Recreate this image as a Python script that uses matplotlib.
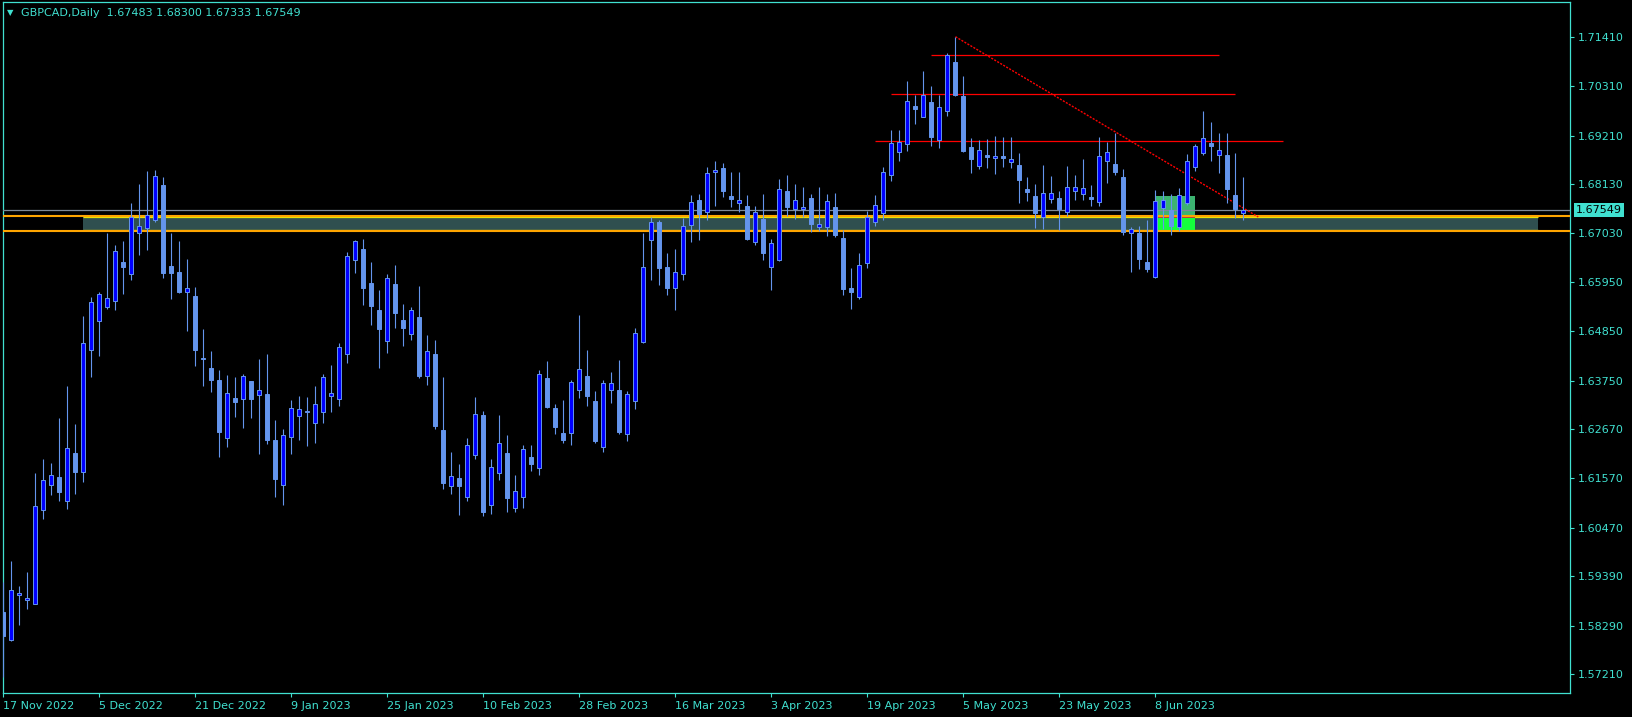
"""GBPCAD daily candles redrawn in the MT4 black chart style."""

from __future__ import annotations

import matplotlib

matplotlib.use("Agg")
import matplotlib.pyplot as plt
from matplotlib.patches import Rectangle

# --- OHLC, one entry per daily bar (bar 0 = 17 Nov 2022) ---
opens = [
    1.5859, 1.5796, 1.5896, 1.5885, 1.5878, 1.6087, 1.6143, 1.6160, 1.6107, 1.6214,
    1.6172, 1.6444, 1.6509, 1.6540, 1.6553, 1.6640, 1.6613, 1.6703, 1.6716, 1.6734,
    1.6811, 1.6631, 1.6617, 1.6573, 1.6564, 1.6425, 1.6403, 1.6376, 1.6246, 1.6336,
    1.6335, 1.6374, 1.6342, 1.6345, 1.6243, 1.6142, 1.6249, 1.6296, 1.6304, 1.6280,
    1.6304, 1.6341, 1.6333, 1.6435, 1.6645, 1.6668, 1.6593, 1.6533, 1.6464, 1.6590,
    1.6510, 1.6480, 1.6517, 1.6386, 1.6434, 1.6265, 1.6139, 1.6158, 1.6116, 1.6210,
    1.6298, 1.6098, 1.6168, 1.6213, 1.6090, 1.6115, 1.6205, 1.6181, 1.6380, 1.6313,
    1.6258, 1.6258, 1.6353, 1.6385, 1.6330, 1.6226, 1.6353, 1.6353, 1.6257, 1.6330,
    1.6462, 1.6688, 1.6728, 1.6628, 1.6582, 1.6613, 1.6723, 1.6777, 1.6752, 1.6839,
    1.6848, 1.6787, 1.6770, 1.6764, 1.6683, 1.6735, 1.6629, 1.6645, 1.6798, 1.6758,
    1.6757, 1.6782, 1.6718, 1.6718, 1.6762, 1.6693, 1.6582, 1.6562, 1.6637, 1.6728,
    1.6749, 1.6833, 1.6884, 1.6902, 1.6987, 1.6963, 1.6996, 1.6912, 1.6975, 1.7085,
    1.7010, 1.6896, 1.6854, 1.6878, 1.6871, 1.6876, 1.6862, 1.6856, 1.6802, 1.6787,
    1.6740, 1.6781, 1.6782, 1.6752, 1.6798, 1.6790, 1.6784, 1.6774, 1.6865, 1.6858,
    1.6829, 1.6703, 1.6704, 1.6640, 1.6606, 1.6759, 1.6755, 1.6718, 1.6770, 1.6852,
    1.6883, 1.6905, 1.6877, 1.6878, 1.6788, 1.67483,
]
highs = [
    1.5925, 1.5973, 1.5917, 1.5948, 1.6169, 1.6200, 1.6191, 1.6292, 1.6363, 1.6278,
    1.6519, 1.6561, 1.6573, 1.6704, 1.6677, 1.6686, 1.6771, 1.6813, 1.6842, 1.6845,
    1.6829, 1.6704, 1.6686, 1.6646, 1.6584, 1.6490, 1.6441, 1.6399, 1.6388, 1.6383,
    1.6390, 1.6374, 1.6423, 1.6434, 1.6287, 1.6267, 1.6332, 1.6341, 1.6339, 1.6363,
    1.6390, 1.6410, 1.6459, 1.6662, 1.6689, 1.6691, 1.6640, 1.6577, 1.6613, 1.6633,
    1.6546, 1.6539, 1.6586, 1.6477, 1.6466, 1.6383, 1.6216, 1.6189, 1.6247, 1.6339,
    1.6307, 1.6200, 1.6298, 1.6254, 1.6165, 1.6231, 1.6232, 1.6398, 1.6419, 1.6323,
    1.6332, 1.6376, 1.6521, 1.6443, 1.6352, 1.6376, 1.6394, 1.6421, 1.6352, 1.6492,
    1.6704, 1.6740, 1.6733, 1.6660, 1.6668, 1.6737, 1.6789, 1.6791, 1.6851, 1.6865,
    1.6860, 1.6840, 1.6840, 1.6789, 1.6764, 1.6791, 1.6691, 1.6825, 1.6833, 1.6813,
    1.6807, 1.6791, 1.6807, 1.6791, 1.6793, 1.6711, 1.6627, 1.6660, 1.6754, 1.6789,
    1.6851, 1.6934, 1.6934, 1.7043, 1.7012, 1.7065, 1.7032, 1.7012, 1.7105, 1.7142,
    1.7054, 1.6916, 1.6911, 1.6914, 1.6920, 1.6918, 1.6918, 1.6882, 1.6829, 1.6813,
    1.6856, 1.6831, 1.6798, 1.6854, 1.6833, 1.6869, 1.6811, 1.6918, 1.6907, 1.6927,
    1.6847, 1.6718, 1.6720, 1.6733, 1.6800, 1.6798, 1.6791, 1.6804, 1.6880, 1.6903,
    1.6976, 1.6952, 1.6927, 1.6927, 1.6882, 1.68300,
]
lows = [
    1.5715, 1.5795, 1.5831, 1.5867, 1.5876, 1.6067, 1.6119, 1.6107, 1.6089, 1.6122,
    1.6148, 1.6382, 1.6431, 1.6535, 1.6533, 1.6568, 1.6599, 1.6655, 1.6666, 1.6729,
    1.6604, 1.6557, 1.6570, 1.6486, 1.6408, 1.6364, 1.6350, 1.6205, 1.6226, 1.6295,
    1.6270, 1.6292, 1.6212, 1.6234, 1.6116, 1.6098, 1.6212, 1.6243, 1.6230, 1.6237,
    1.6281, 1.6304, 1.6319, 1.6415, 1.6616, 1.6544, 1.6499, 1.6404, 1.6437, 1.6493,
    1.6452, 1.6466, 1.6380, 1.6365, 1.6268, 1.6133, 1.6122, 1.6076, 1.6107, 1.6200,
    1.6073, 1.6078, 1.6154, 1.6082, 1.6083, 1.6092, 1.6174, 1.6165, 1.6315, 1.6257,
    1.6237, 1.6232, 1.6336, 1.6318, 1.6236, 1.6217, 1.6325, 1.6257, 1.6240, 1.6312,
    1.6458, 1.6599, 1.6588, 1.6567, 1.6533, 1.6599, 1.6684, 1.6689, 1.6732, 1.6765,
    1.6784, 1.6762, 1.6752, 1.6689, 1.6677, 1.6644, 1.6577, 1.6642, 1.6742, 1.6735,
    1.6740, 1.6707, 1.6709, 1.6698, 1.6695, 1.6566, 1.6535, 1.6558, 1.6625, 1.6720,
    1.6732, 1.6821, 1.6865, 1.6888, 1.6946, 1.6962, 1.6898, 1.6894, 1.6965, 1.7010,
    1.6885, 1.6838, 1.6847, 1.6849, 1.6836, 1.6851, 1.6849, 1.6771, 1.6775, 1.6715,
    1.6713, 1.6771, 1.6711, 1.6743, 1.6778, 1.6778, 1.6764, 1.6764, 1.6816, 1.6833,
    1.6700, 1.6617, 1.6624, 1.6617, 1.6604, 1.6713, 1.6700, 1.6709, 1.6767, 1.6843,
    1.6878, 1.6865, 1.6838, 1.6770, 1.6737, 1.67333,
]
closes = [
    1.5806, 1.5908, 1.5901, 1.5890, 1.6095, 1.6153, 1.6165, 1.6127, 1.6225, 1.6171,
    1.6458, 1.6550, 1.6568, 1.6559, 1.6663, 1.6629, 1.6739, 1.6719, 1.6744, 1.6831,
    1.6616, 1.6616, 1.6573, 1.6581, 1.6444, 1.6424, 1.6377, 1.6261, 1.6347, 1.6328,
    1.6385, 1.6333, 1.6353, 1.6243, 1.6156, 1.6253, 1.6313, 1.6311, 1.6307, 1.6322,
    1.6382, 1.6347, 1.6449, 1.6652, 1.6686, 1.6582, 1.6542, 1.6490, 1.6603, 1.6526,
    1.6493, 1.6532, 1.6386, 1.6440, 1.6274, 1.6147, 1.6162, 1.6139, 1.6231, 1.6300,
    1.6082, 1.6182, 1.6235, 1.6114, 1.6128, 1.6222, 1.6190, 1.6389, 1.6316, 1.6272,
    1.6243, 1.6371, 1.6400, 1.6341, 1.6240, 1.6369, 1.6369, 1.6261, 1.6345, 1.6481,
    1.6628, 1.6728, 1.6627, 1.6582, 1.6617, 1.6719, 1.6773, 1.6747, 1.6837, 1.6844,
    1.6798, 1.6780, 1.6777, 1.6691, 1.6750, 1.6660, 1.6681, 1.6802, 1.6761, 1.6777,
    1.6761, 1.6725, 1.6724, 1.6775, 1.6700, 1.6580, 1.6573, 1.6632, 1.6740, 1.6766,
    1.6839, 1.6904, 1.6906, 1.6998, 1.6981, 1.7012, 1.6918, 1.6984, 1.7100, 1.7012,
    1.6887, 1.6870, 1.6889, 1.6874, 1.6875, 1.6872, 1.6868, 1.6822, 1.6796, 1.6749,
    1.6793, 1.6793, 1.6758, 1.6807, 1.6806, 1.6804, 1.6781, 1.6876, 1.6885, 1.6840,
    1.6706, 1.6713, 1.6646, 1.6624, 1.6775, 1.6777, 1.6720, 1.6789, 1.6864, 1.6897,
    1.6917, 1.6897, 1.6889, 1.6802, 1.6758, 1.67549,
]

date_bars = [0, 12, 24, 36, 48, 60, 72, 84, 96, 108, 120, 132, 144]
date_labels = [
    "17 Nov 2022", "5 Dec 2022", "21 Dec 2022", "9 Jan 2023", "25 Jan 2023",
    "10 Feb 2023", "28 Feb 2023", "16 Mar 2023", "3 Apr 2023", "19 Apr 2023",
    "5 May 2023", "23 May 2023", "8 Jun 2023",
]
price_ticks = [
    1.71410, 1.70310, 1.69210, 1.68130, 1.67030, 1.65950, 1.64850,
    1.63750, 1.62670, 1.61570, 1.60470, 1.59390, 1.58290, 1.57210,
]

symbol = "GBPCAD,Daily"
bid = 1.67549

# drawn objects (prices, bar indices)
zone_bars = [9.94, 191.8]
zone_prices = [1.67101, 1.67387]
orange_levels = [1.67409, 1.67081]
red_levels = [1.71009, 1.70133, 1.69085]
red_starts = [115.9, 110.9, 108.9]
red_ends = [151.9, 153.9, 159.9]
trend_bars = [119, 156.85]
trend_prices = [1.71417, 1.67398]
box_bars = [143.98, 148.94]
box_prices = [1.67101, 1.67398, 1.67866]

FG = "#40E0D0"
BULL = "#0000FF"
BEAR = "#6495ED"


def draw_objects(ax) -> None:
    ax.add_patch(Rectangle((zone_bars[0], zone_prices[0]), zone_bars[1] - zone_bars[0],
                           zone_prices[1] - zone_prices[0], facecolor="#2F4F4F",
                           edgecolor="none", zorder=1))
    ax.hlines(zone_prices, zone_bars[0], zone_bars[1], color="#E8E800", lw=0.9, zorder=1.5)

    # green order box
    w = box_bars[1] - box_bars[0]
    ax.add_patch(Rectangle((box_bars[0], box_prices[1]), w, box_prices[2] - box_prices[1],
                           facecolor="#3CB371", edgecolor="none", zorder=2))
    ax.add_patch(Rectangle((box_bars[0], box_prices[0]), w, box_prices[1] - box_prices[0],
                           facecolor="#14FF3C", edgecolor="none", zorder=2))
    ax.hlines(box_prices[1], box_bars[0], box_bars[1], color="#DC143C", lw=1.2, zorder=2.5)

    ax.axhline(bid, color="#7F8A96", lw=0.9, zorder=3)
    for level in orange_levels:
        ax.axhline(level, color="#FFA500", lw=1.5, zorder=3)

    ax.hlines(red_levels, red_starts, red_ends, color="#FF0000", lw=0.9, zorder=3)
    ax.plot(trend_bars, trend_prices, color="#FF0000", lw=1.0, ls=(0, (1.5, 1)), zorder=3)


def draw_candles(ax) -> None:
    x = list(range(len(opens)))
    ax.vlines(x, lows, highs, color=BEAR, lw=0.8, zorder=5)
    bottoms = [min(o, c) for o, c in zip(opens, closes)]
    heights = [max(abs(c - o), 0.00003) for o, c in zip(opens, closes)]
    fills = [BULL if c > o else BEAR for o, c in zip(opens, closes)]
    ax.bar(x, heights, bottom=bottoms, width=0.5, color=fills, edgecolor=BEAR,
           linewidth=0.7, zorder=6)


def main() -> None:
    fig = plt.figure(figsize=(16.33, 7.17), dpi=100, facecolor="black")
    ax = fig.add_axes([0.00165, 0.03389, 0.95958, 0.96290], facecolor="black")

    draw_objects(ax)
    draw_candles(ax)

    ax.set_xlim(-0.1, 195.775)
    ax.set_ylim(1.56793, 1.72184)
    for spine in ax.spines.values():
        spine.set_color(FG)
        spine.set_linewidth(0.9)

    ax.yaxis.tick_right()
    ax.set_yticks(price_ticks)
    ax.set_yticklabels([f"{p:.5f}" for p in price_ticks])
    ax.set_xticks(date_bars)
    ax.set_xticklabels(date_labels, ha="left")
    ax.tick_params(colors=FG, labelsize=8, length=3, width=0.8, pad=3)

    # current price tag on the price scale
    ax.text(1.0041, bid, f"{bid:.5f}", transform=ax.get_yaxis_transform(),
            fontsize=8, color="black", va="center", ha="left",
            bbox=dict(boxstyle="square,pad=0.2", facecolor=FG, edgecolor="none"))

    header = f"{symbol}  {opens[-1]:.5f} {highs[-1]:.5f} {lows[-1]:.5f} {closes[-1]:.5f}"
    fig.text(7 / 1633, 1 - 12.7 / 717, "\u25bc", color=FG, fontsize=6, va="center")
    fig.text(21 / 1633, 1 - 12.7 / 717, header, color=FG, fontsize=8, va="center")

    fig.savefig("out.png", dpi=100, facecolor="black")
    plt.close(fig)


if __name__ == "__main__":
    main()
